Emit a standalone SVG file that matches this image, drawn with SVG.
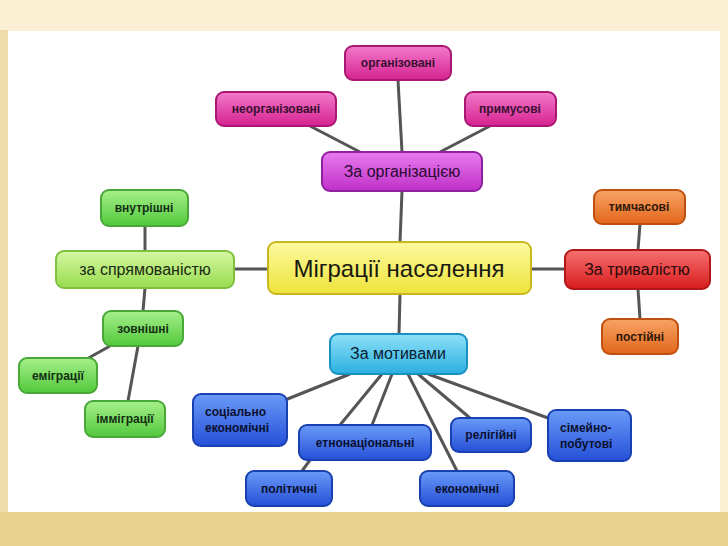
<svg xmlns="http://www.w3.org/2000/svg" width="728" height="546" viewBox="0 0 728 546">
<defs>
<linearGradient id="gm" x1="0" y1="0" x2="0" y2="1"><stop offset="0" stop-color="#f27acb"/><stop offset="1" stop-color="#d6228f"/></linearGradient>
<linearGradient id="gp" x1="0" y1="0" x2="0" y2="1"><stop offset="0" stop-color="#e77bee"/><stop offset="1" stop-color="#c030c8"/></linearGradient>
<linearGradient id="gg" x1="0" y1="0" x2="0" y2="1"><stop offset="0" stop-color="#a6f08a"/><stop offset="1" stop-color="#52c83c"/></linearGradient>
<linearGradient id="glg" x1="0" y1="0" x2="0" y2="1"><stop offset="0" stop-color="#d6f7a2"/><stop offset="1" stop-color="#98dc4e"/></linearGradient>
<linearGradient id="gy" x1="0" y1="0" x2="0" y2="1"><stop offset="0" stop-color="#fdfaa0"/><stop offset="1" stop-color="#eee33a"/></linearGradient>
<linearGradient id="gr" x1="0" y1="0" x2="0" y2="1"><stop offset="0" stop-color="#f77070"/><stop offset="1" stop-color="#d81c1c"/></linearGradient>
<linearGradient id="go" x1="0" y1="0" x2="0" y2="1"><stop offset="0" stop-color="#f8a466"/><stop offset="1" stop-color="#e2661a"/></linearGradient>
<linearGradient id="gc" x1="0" y1="0" x2="0" y2="1"><stop offset="0" stop-color="#8ee0f8"/><stop offset="1" stop-color="#2ab0e0"/></linearGradient>
<linearGradient id="gb" x1="0" y1="0" x2="0" y2="1"><stop offset="0" stop-color="#6a9af8"/><stop offset="1" stop-color="#2550d8"/></linearGradient>
</defs>
<style>
.n{stroke-width:2}
.t{font-family:"Liberation Sans",Arial,sans-serif;text-anchor:middle}
.s{font-size:12px;font-weight:bold}
.l{font-size:16px}
.c line{stroke:#555;stroke-width:3}
</style>
<rect width="728" height="546" fill="#fbf0d4"/>
<rect x="0" y="512" width="728" height="34" fill="#e8d290"/>
<rect x="0" y="30" width="8" height="482" fill="#efdca8"/>
<rect x="8" y="31" width="712" height="481" fill="#ffffff"/>
<g class="c">
<line x1="398" y1="80" x2="402" y2="152"/>
<line x1="310" y1="126" x2="360" y2="152"/>
<line x1="490" y1="126" x2="440" y2="152"/>
<line x1="402" y1="191" x2="400" y2="242"/>
<line x1="145" y1="226" x2="145" y2="251"/>
<line x1="234" y1="269" x2="268" y2="269"/>
<line x1="531" y1="269" x2="565" y2="269"/>
<line x1="640" y1="224" x2="638" y2="250"/>
<line x1="638" y1="289" x2="640" y2="319"/>
<line x1="145" y1="288" x2="143" y2="311"/>
<line x1="110" y1="346" x2="85" y2="360"/>
<line x1="138" y1="346" x2="128" y2="401"/>
<line x1="400" y1="294" x2="399" y2="334"/>
<line x1="350" y1="374" x2="285" y2="400"/>
<line x1="382" y1="374" x2="340" y2="425"/>
<line x1="392" y1="374" x2="372" y2="425"/>
<line x1="408" y1="374" x2="457" y2="471"/>
<line x1="418" y1="374" x2="470" y2="418"/>
<line x1="428" y1="374" x2="548" y2="418"/>
<line x1="310" y1="460" x2="302" y2="471"/>
</g>
<g id="organizovani"><rect class="n" x="345" y="46" width="106" height="34" rx="8" fill="url(#gm)" stroke="#a81870"/><text class="t s" x="398" y="67" fill="#3a1030">організовані</text></g>
<g id="neorganizovani"><rect class="n" x="216" y="92" width="120" height="34" rx="8" fill="url(#gm)" stroke="#a81870"/><text class="t s" x="276" y="113" fill="#3a1030">неорганізовані</text></g>
<g id="prymusovi"><rect class="n" x="465" y="92" width="91" height="34" rx="8" fill="url(#gm)" stroke="#a81870"/><text class="t s" x="510" y="113" fill="#3a1030">примусові</text></g>
<g id="za-organizatsiyeyu"><rect class="n" x="322" y="152" width="160" height="39" rx="8" fill="url(#gp)" stroke="#9020a0"/><text class="t l" x="402" y="177" fill="#2a0a30">За організацією</text></g>
<g id="vnutrishni"><rect class="n" x="101" y="190" width="87" height="36" rx="8" fill="url(#gg)" stroke="#48a838"/><text class="t s" x="144" y="212" fill="#123012">внутрішні</text></g>
<g id="za-spriamovanistiu"><rect class="n" x="56" y="251" width="178" height="37" rx="8" fill="url(#glg)" stroke="#80c040"/><text class="t l" x="145" y="275" fill="#1a2a10">за спрямованістю</text></g>
<g id="mihratsii"><rect class="n" x="268" y="242" width="263" height="52" rx="8" fill="url(#gy)" stroke="#c8b820"/><text class="t" x="399" y="277" font-size="24" fill="#1a1a10">Міграції населення</text></g>
<g id="za-tryvalistiu"><rect class="n" x="565" y="250" width="145" height="39" rx="8" fill="url(#gr)" stroke="#b01818"/><text class="t l" x="637" y="275" fill="#2a0a0a">За тривалістю</text></g>
<g id="tymchasovi"><rect class="n" x="594" y="190" width="91" height="34" rx="8" fill="url(#go)" stroke="#c05010"/><text class="t s" x="639" y="211" fill="#301808">тимчасові</text></g>
<g id="postiini"><rect class="n" x="602" y="319" width="76" height="35" rx="8" fill="url(#go)" stroke="#c05010"/><text class="t s" x="640" y="341" fill="#301808">постійні</text></g>
<g id="zovnishni"><rect class="n" x="103" y="311" width="80" height="35" rx="8" fill="url(#gg)" stroke="#48a838"/><text class="t s" x="143" y="333" fill="#123012">зовнішні</text></g>
<g id="emihratsii"><rect class="n" x="19" y="358" width="78" height="35" rx="8" fill="url(#gg)" stroke="#48a838"/><text class="t s" x="58" y="380" fill="#123012">еміграції</text></g>
<g id="immihratsii"><rect class="n" x="85" y="401" width="80" height="36" rx="8" fill="url(#gg)" stroke="#48a838"/><text class="t s" x="125" y="423" fill="#123012">імміграції</text></g>
<g id="za-motyvamy"><rect class="n" x="330" y="334" width="137" height="40" rx="8" fill="url(#gc)" stroke="#1890c0"/><text class="t l" x="398" y="359" fill="#0a2030">За мотивами</text></g>
<g id="sotsialno"><rect class="n" x="193" y="394" width="94" height="52" rx="8" fill="url(#gb)" stroke="#1840b0"/><text class="t s" x="205" y="416" style="text-anchor:start" fill="#0a1030">соціально</text><text class="t s" x="205" y="432" style="text-anchor:start" fill="#0a1030">економічні</text></g>
<g id="etnonatsionalni"><rect class="n" x="299" y="425" width="132" height="35" rx="8" fill="url(#gb)" stroke="#1840b0"/><text class="t s" x="365" y="447" fill="#0a1030">етнонаціональні</text></g>
<g id="politychni"><rect class="n" x="246" y="471" width="86" height="35" rx="8" fill="url(#gb)" stroke="#1840b0"/><text class="t s" x="289" y="493" fill="#0a1030">політичні</text></g>
<g id="ekonomichni"><rect class="n" x="420" y="471" width="94" height="35" rx="8" fill="url(#gb)" stroke="#1840b0"/><text class="t s" x="467" y="493" fill="#0a1030">економічні</text></g>
<g id="relihiini"><rect class="n" x="451" y="418" width="80" height="34" rx="8" fill="url(#gb)" stroke="#1840b0"/><text class="t s" x="491" y="439" fill="#0a1030">релігійні</text></g>
<g id="simeino"><rect class="n" x="548" y="410" width="83" height="51" rx="8" fill="url(#gb)" stroke="#1840b0"/><text class="t s" x="560" y="432" style="text-anchor:start" fill="#0a1030">сімейно-</text><text class="t s" x="560" y="448" style="text-anchor:start" fill="#0a1030">побутові</text></g>
</svg>
